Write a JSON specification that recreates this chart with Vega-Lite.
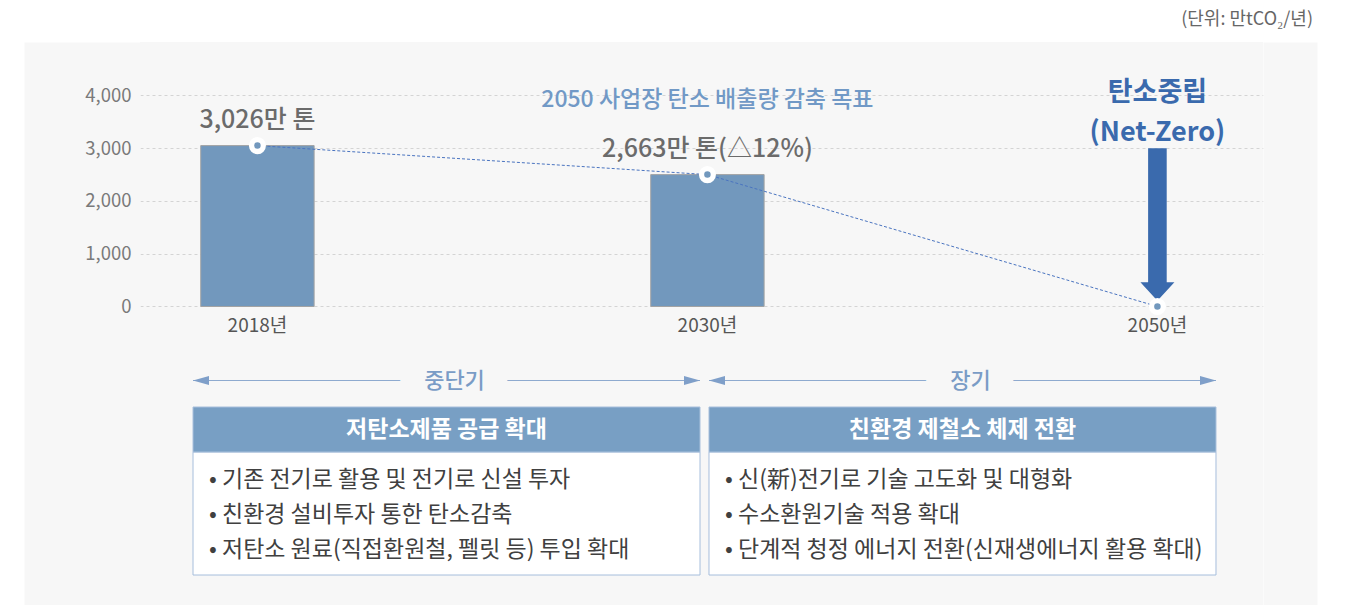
{
  "$schema": "https://vega.github.io/schema/vega-lite/v6.json",
  "width": 1123,
  "height": 563,
  "autosize": {"type": "none"},
  "padding": {"left": 140, "top": 42, "right": 89, "bottom": 0},
  "background": "#ffffff",
  "config": {"font": "Noto Sans CJK KR", "view": {"fill": "#f7f7f7", "stroke": null}},
  "title": {"text": "(단위: 만tCO₂/년)", "anchor": "end", "frame": "group", "dx": 50, "offset": 13, "fontSize": 18, "fontWeight": "normal", "color": "#666666", "font": "Noto Sans CJK KR"},
  "datasets": {
    "emissions": [
      {"year": "2018년", "value": 3050, "label": "3,026만 톤"},
      {"year": "2030년", "value": 2500, "label": "2,663만 톤(△12%)"},
      {"year": "2050년", "value": 0, "label": ""}
    ],
    "terms": [
      {"term": "중단기", "header": "저탄소제품 공급 확대"},
      {"term": "장기", "header": "친환경 제철소 체제 전환"}
    ],
    "bullets": [
      {"term": "중단기", "line": 1, "text": "• 기존 전기로 활용 및 전기로 신설 투자"},
      {"term": "중단기", "line": 2, "text": "• 친환경 설비투자 통한 탄소감축"},
      {"term": "중단기", "line": 3, "text": "• 저탄소 원료(직접환원철, 펠릿 등) 투입 확대"},
      {"term": "장기", "line": 1, "text": "• 신(新)전기로 기술 고도화 및 대형화"},
      {"term": "장기", "line": 2, "text": "• 수소환원기술 적용 확대"},
      {"term": "장기", "line": 3, "text": "• 단계적 청정 에너지 전환(신재생에너지 활용 확대)"}
    ]
  },
  "layer": [
    {
      "data": {"values": [{}]},
      "mark": {"type": "text", "text": ""},
      "encoding": {
        "y": {"datum": 0, "type": "quantitative", "scale": {"domain": [0, 1]},
          "axis": {"orient": "left", "offset": 58, "domain": true, "domainColor": "#f7f7f7", "domainWidth": 116, "labels": false, "ticks": false, "grid": false, "title": null}}
      }
    },
    {
      "data": {"name": "emissions"},
      "layer": [
        {
          "transform": [{"filter": "datum.value > 0"}],
          "mark": {"type": "bar", "fill": "#7298bd", "stroke": "#a3a3a3", "strokeWidth": 1},
          "encoding": {
            "x": {"field": "year", "type": "nominal", "sort": null, "scale": {"domain": ["2018년", "2030년", "2050년"], "paddingInner": 0.748, "paddingOuter": 0.1218, "align": 0.554}, "axis": null},
            "y": {"field": "value", "type": "quantitative", "scale": {"domain": [-5659, 5014], "nice": false, "zero": false},
              "axis": {"title": null, "values": [0, 1000, 2000, 3000, 4000], "format": ",.0f", "orient": "left", "domain": false, "ticks": false, "tickSize": 0, "labelPadding": 9, "labelFontSize": 18.5, "labelColor": "#7a7a7a", "labelFont": "Noto Sans CJK KR", "grid": true, "gridColor": "#d4d4d4", "gridDash": [3, 3], "gridWidth": 1}},
            "y2": {"datum": 0}
          }
        },
        {
          "mark": {"type": "line", "color": "#4a74c0", "strokeWidth": 1, "strokeDash": [3, 2]},
          "encoding": {
            "x": {"field": "year", "type": "nominal", "sort": null, "axis": null},
            "y": {"field": "value", "type": "quantitative"}
          }
        },
        {
          "data": {"values": [{}]},
          "mark": {"type": "point", "shape": "M-0.122,-1L0.122,-1L0.122,0.759L0.223,0.759L0,1L-0.223,0.759L-0.122,0.759Z", "size": 23226, "filled": true, "fill": "#3a6aad", "opacity": 1, "strokeWidth": 0},
          "encoding": {
            "x": {"datum": "2050년", "type": "nominal", "axis": null},
            "y": {"datum": 1554, "type": "quantitative"}
          }
        },
        {
          "mark": {"type": "circle", "size": 139, "fill": "#7298bd", "stroke": "#ffffff", "strokeWidth": 5.3, "opacity": 1},
          "encoding": {
            "x": {"field": "year", "type": "nominal", "sort": null, "axis": null},
            "y": {"field": "value", "type": "quantitative"}
          }
        },
        {
          "transform": [{"filter": "datum.label != ''"}],
          "mark": {"type": "text", "dy": -26, "fontSize": 25, "fontWeight": 500, "color": "#6b6b6b"},
          "encoding": {
            "x": {"field": "year", "type": "nominal", "sort": null, "axis": null},
            "y": {"field": "value", "type": "quantitative"},
            "text": {"field": "label"}
          }
        },
        {
          "mark": {"type": "text", "dy": 20, "fontSize": 19, "color": "#555555"},
          "encoding": {
            "x": {"field": "year", "type": "nominal", "sort": null, "axis": null},
            "y": {"datum": 0, "type": "quantitative"},
            "text": {"field": "year"}
          }
        },
        {
          "data": {"values": [{}]},
          "mark": {"type": "text", "text": "2050 사업장 탄소 배출량 감축 목표", "fontSize": 23, "fontWeight": 500, "color": "#7199c6"},
          "encoding": {
            "x": {"datum": "2030년", "type": "nominal", "axis": null},
            "y": {"datum": 3915, "type": "quantitative"}
          }
        },
        {
          "data": {"values": [{}]},
          "mark": {"type": "text", "text": ["탄소중립", "(Net-Zero)"], "lineHeight": 40, "fontSize": 27, "fontWeight": "bold", "color": "#3a6aad"},
          "encoding": {
            "x": {"datum": "2050년", "type": "nominal", "axis": null},
            "y": {"datum": 4050, "type": "quantitative"}
          }
        }
      ]
    },
    {
      "data": {"name": "terms"},
      "layer": [
        {
          "mark": {"type": "rect", "fill": "#8eaacf"},
          "encoding": {
            "x": {"field": "term", "type": "nominal", "sort": null, "scale": {"domain": ["중단기", "장기"], "paddingInner": 0.01744, "paddingOuter": 0.0969, "align": 0.53}, "axis": null},
            "y": {"datum": -1.857, "type": "quantitative", "scale": {"domain": [-11.514, 4.571], "reverse": true, "nice": false, "zero": false},
              "axis": {"orient": "right", "offset": 27, "domain": true, "domainColor": "#f7f7f7", "domainWidth": 54, "labels": false, "ticks": false, "grid": false, "title": null}},
            "y2": {"datum": -1.829}
          }
        },
        {
          "mark": {"type": "text", "fontSize": 22, "dx": 8, "fontWeight": 500, "fill": "#f7f7f7", "stroke": "#f7f7f7", "strokeWidth": 50, "strokeJoin": "round"},
          "encoding": {
            "x": {"field": "term", "type": "nominal", "sort": null, "axis": null},
            "y": {"datum": -1.843, "type": "quantitative"},
            "text": {"field": "term"}
          }
        },
        {
          "mark": {"type": "text", "fontSize": 22, "dx": 8, "fontWeight": 500, "fill": "#7a9cc6"},
          "encoding": {
            "x": {"field": "term", "type": "nominal", "sort": null, "axis": null},
            "y": {"datum": -1.843, "type": "quantitative"},
            "text": {"field": "term"}
          }
        },
        {
          "mark": {"type": "point", "shape": "M0,0L1,-0.28L1,0.28Z", "size": 1024, "filled": true, "fill": "#7f9fc9", "opacity": 1, "strokeWidth": 0},
          "encoding": {
            "x": {"field": "term", "type": "nominal", "sort": null, "bandPosition": 0, "axis": null},
            "y": {"datum": -1.843, "type": "quantitative"}
          }
        },
        {
          "mark": {"type": "point", "shape": "M0,0L-1,-0.28L-1,0.28Z", "size": 1024, "filled": true, "fill": "#7f9fc9", "opacity": 1, "strokeWidth": 0},
          "encoding": {
            "x": {"field": "term", "type": "nominal", "sort": null, "bandPosition": 1, "axis": null},
            "y": {"datum": -1.843, "type": "quantitative"}
          }
        },
        {
          "mark": {"type": "rect", "fill": "#ffffff", "stroke": "#a6bedc", "strokeWidth": 1},
          "encoding": {
            "x": {"field": "term", "type": "nominal", "sort": null, "axis": null},
            "y": {"datum": 0.2, "type": "quantitative"},
            "y2": {"datum": 3.714}
          }
        },
        {
          "mark": {"type": "rect", "fill": "#789fc4", "stroke": "#a9c0dc", "strokeWidth": 1},
          "encoding": {
            "x": {"field": "term", "type": "nominal", "sort": null, "axis": null},
            "y": {"datum": -1.086, "type": "quantitative"},
            "y2": {"datum": 0.2}
          }
        },
        {
          "mark": {"type": "text", "fontSize": 23, "fontWeight": "bold", "fill": "#ffffff"},
          "encoding": {
            "x": {"field": "term", "type": "nominal", "sort": null, "axis": null},
            "y": {"datum": -0.429, "type": "quantitative"},
            "text": {"field": "header"}
          }
        },
        {
          "data": {"name": "bullets"},
          "mark": {"type": "text", "fontSize": 23, "align": "left", "dx": 16, "fill": "#404040"},
          "encoding": {
            "x": {"field": "term", "type": "nominal", "sort": null, "bandPosition": 0, "axis": null},
            "y": {"field": "line", "type": "quantitative"},
            "text": {"field": "text"}
          }
        }
      ]
    }
  ],
  "resolve": {"scale": {"x": "independent", "y": "independent"}, "axis": {"x": "independent", "y": "independent"}}
}
